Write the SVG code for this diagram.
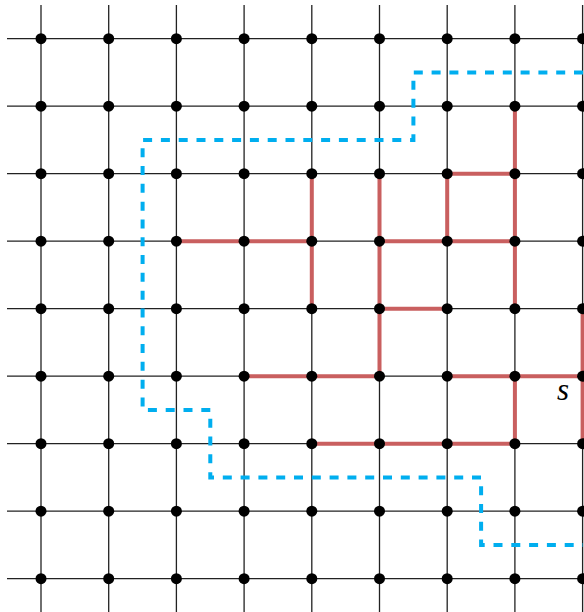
<svg xmlns="http://www.w3.org/2000/svg" width="584" height="612" viewBox="0 0 584 612">
<style>
.grid line{stroke:#222;stroke-width:1.3}
.red{fill:none;stroke:#c95f5f;stroke-width:4;stroke-linecap:butt}
.blue{fill:none;stroke:#00aeef;stroke-width:4;stroke-dasharray:9 8.8}
.node circle{fill:#000}
.lbl{font-family:"Liberation Serif","DejaVu Serif",serif;font-style:italic;font-size:31px;fill:#000}
</style>
<rect width="584" height="612" fill="#fff"/>
<g id="grid" class="grid">
<line x1="7" y1="38.7" x2="620" y2="38.7"/>
<line x1="7" y1="106.2" x2="620" y2="106.2"/>
<line x1="7" y1="173.7" x2="620" y2="173.7"/>
<line x1="7" y1="241.2" x2="620" y2="241.2"/>
<line x1="7" y1="308.7" x2="620" y2="308.7"/>
<line x1="7" y1="376.2" x2="620" y2="376.2"/>
<line x1="7" y1="443.7" x2="620" y2="443.7"/>
<line x1="7" y1="511.2" x2="620" y2="511.2"/>
<line x1="7" y1="578.7" x2="620" y2="578.7"/>
<line x1="41" y1="5" x2="41" y2="620"/>
<line x1="108.7" y1="5" x2="108.7" y2="620"/>
<line x1="176.4" y1="5" x2="176.4" y2="620"/>
<line x1="244.1" y1="5" x2="244.1" y2="620"/>
<line x1="311.8" y1="5" x2="311.8" y2="620"/>
<line x1="379.5" y1="5" x2="379.5" y2="620"/>
<line x1="447.2" y1="5" x2="447.2" y2="620"/>
<line x1="514.9" y1="5" x2="514.9" y2="620"/>
<line x1="582.6" y1="5" x2="582.6" y2="620"/>
</g>
<g id="connectors">
<path class="red" d="M514.9,106.2V308.7 M514.9,376.2V443.7 M447.2,173.7H514.9 M447.2,173.7V241.2 M379.5,241.2H514.9 M379.5,173.7V376.2 M379.5,308.7H447.2 M311.8,173.7V308.7 M176.4,241.2H311.8 M244.1,376.2H379.5 M447.2,376.2H582.6 M311.8,443.7H514.9 M582.6,308.7V443.7"/>
<path class="blue" d="M583,72.45H413.4V139.95H142.6V409.95H210.3V477.45H481.1V544.95H583"/>
</g>
<g id="nodes">
<g id="n0-0" class="node"><circle cx="41" cy="38.7" r="5.5"/></g>
<g id="n1-0" class="node"><circle cx="108.7" cy="38.7" r="5.5"/></g>
<g id="n2-0" class="node"><circle cx="176.4" cy="38.7" r="5.5"/></g>
<g id="n3-0" class="node"><circle cx="244.1" cy="38.7" r="5.5"/></g>
<g id="n4-0" class="node"><circle cx="311.8" cy="38.7" r="5.5"/></g>
<g id="n5-0" class="node"><circle cx="379.5" cy="38.7" r="5.5"/></g>
<g id="n6-0" class="node"><circle cx="447.2" cy="38.7" r="5.5"/></g>
<g id="n7-0" class="node"><circle cx="514.9" cy="38.7" r="5.5"/></g>
<g id="n8-0" class="node"><circle cx="582.6" cy="38.7" r="5.5"/></g>
<g id="n0-1" class="node"><circle cx="41" cy="106.2" r="5.5"/></g>
<g id="n1-1" class="node"><circle cx="108.7" cy="106.2" r="5.5"/></g>
<g id="n2-1" class="node"><circle cx="176.4" cy="106.2" r="5.5"/></g>
<g id="n3-1" class="node"><circle cx="244.1" cy="106.2" r="5.5"/></g>
<g id="n4-1" class="node"><circle cx="311.8" cy="106.2" r="5.5"/></g>
<g id="n5-1" class="node"><circle cx="379.5" cy="106.2" r="5.5"/></g>
<g id="n6-1" class="node"><circle cx="447.2" cy="106.2" r="5.5"/></g>
<g id="n7-1" class="node"><circle cx="514.9" cy="106.2" r="5.5"/></g>
<g id="n8-1" class="node"><circle cx="582.6" cy="106.2" r="5.5"/></g>
<g id="n0-2" class="node"><circle cx="41" cy="173.7" r="5.5"/></g>
<g id="n1-2" class="node"><circle cx="108.7" cy="173.7" r="5.5"/></g>
<g id="n2-2" class="node"><circle cx="176.4" cy="173.7" r="5.5"/></g>
<g id="n3-2" class="node"><circle cx="244.1" cy="173.7" r="5.5"/></g>
<g id="n4-2" class="node"><circle cx="311.8" cy="173.7" r="5.5"/></g>
<g id="n5-2" class="node"><circle cx="379.5" cy="173.7" r="5.5"/></g>
<g id="n6-2" class="node"><circle cx="447.2" cy="173.7" r="5.5"/></g>
<g id="n7-2" class="node"><circle cx="514.9" cy="173.7" r="5.5"/></g>
<g id="n8-2" class="node"><circle cx="582.6" cy="173.7" r="5.5"/></g>
<g id="n0-3" class="node"><circle cx="41" cy="241.2" r="5.5"/></g>
<g id="n1-3" class="node"><circle cx="108.7" cy="241.2" r="5.5"/></g>
<g id="n2-3" class="node"><circle cx="176.4" cy="241.2" r="5.5"/></g>
<g id="n3-3" class="node"><circle cx="244.1" cy="241.2" r="5.5"/></g>
<g id="n4-3" class="node"><circle cx="311.8" cy="241.2" r="5.5"/></g>
<g id="n5-3" class="node"><circle cx="379.5" cy="241.2" r="5.5"/></g>
<g id="n6-3" class="node"><circle cx="447.2" cy="241.2" r="5.5"/></g>
<g id="n7-3" class="node"><circle cx="514.9" cy="241.2" r="5.5"/></g>
<g id="n8-3" class="node"><circle cx="582.6" cy="241.2" r="5.5"/></g>
<g id="n0-4" class="node"><circle cx="41" cy="308.7" r="5.5"/></g>
<g id="n1-4" class="node"><circle cx="108.7" cy="308.7" r="5.5"/></g>
<g id="n2-4" class="node"><circle cx="176.4" cy="308.7" r="5.5"/></g>
<g id="n3-4" class="node"><circle cx="244.1" cy="308.7" r="5.5"/></g>
<g id="n4-4" class="node"><circle cx="311.8" cy="308.7" r="5.5"/></g>
<g id="n5-4" class="node"><circle cx="379.5" cy="308.7" r="5.5"/></g>
<g id="n6-4" class="node"><circle cx="447.2" cy="308.7" r="5.5"/></g>
<g id="n7-4" class="node"><circle cx="514.9" cy="308.7" r="5.5"/></g>
<g id="n8-4" class="node"><circle cx="582.6" cy="308.7" r="5.5"/></g>
<g id="n0-5" class="node"><circle cx="41" cy="376.2" r="5.5"/></g>
<g id="n1-5" class="node"><circle cx="108.7" cy="376.2" r="5.5"/></g>
<g id="n2-5" class="node"><circle cx="176.4" cy="376.2" r="5.5"/></g>
<g id="n3-5" class="node"><circle cx="244.1" cy="376.2" r="5.5"/></g>
<g id="n4-5" class="node"><circle cx="311.8" cy="376.2" r="5.5"/></g>
<g id="n5-5" class="node"><circle cx="379.5" cy="376.2" r="5.5"/></g>
<g id="n6-5" class="node"><circle cx="447.2" cy="376.2" r="5.5"/></g>
<g id="n7-5" class="node"><circle cx="514.9" cy="376.2" r="5.5"/></g>
<g id="n8-5" class="node"><circle cx="582.6" cy="376.2" r="5.5"/></g>
<g id="n0-6" class="node"><circle cx="41" cy="443.7" r="5.5"/></g>
<g id="n1-6" class="node"><circle cx="108.7" cy="443.7" r="5.5"/></g>
<g id="n2-6" class="node"><circle cx="176.4" cy="443.7" r="5.5"/></g>
<g id="n3-6" class="node"><circle cx="244.1" cy="443.7" r="5.5"/></g>
<g id="n4-6" class="node"><circle cx="311.8" cy="443.7" r="5.5"/></g>
<g id="n5-6" class="node"><circle cx="379.5" cy="443.7" r="5.5"/></g>
<g id="n6-6" class="node"><circle cx="447.2" cy="443.7" r="5.5"/></g>
<g id="n7-6" class="node"><circle cx="514.9" cy="443.7" r="5.5"/></g>
<g id="n8-6" class="node"><circle cx="582.6" cy="443.7" r="5.5"/></g>
<g id="n0-7" class="node"><circle cx="41" cy="511.2" r="5.5"/></g>
<g id="n1-7" class="node"><circle cx="108.7" cy="511.2" r="5.5"/></g>
<g id="n2-7" class="node"><circle cx="176.4" cy="511.2" r="5.5"/></g>
<g id="n3-7" class="node"><circle cx="244.1" cy="511.2" r="5.5"/></g>
<g id="n4-7" class="node"><circle cx="311.8" cy="511.2" r="5.5"/></g>
<g id="n5-7" class="node"><circle cx="379.5" cy="511.2" r="5.5"/></g>
<g id="n6-7" class="node"><circle cx="447.2" cy="511.2" r="5.5"/></g>
<g id="n7-7" class="node"><circle cx="514.9" cy="511.2" r="5.5"/></g>
<g id="n8-7" class="node"><circle cx="582.6" cy="511.2" r="5.5"/></g>
<g id="n0-8" class="node"><circle cx="41" cy="578.7" r="5.5"/></g>
<g id="n1-8" class="node"><circle cx="108.7" cy="578.7" r="5.5"/></g>
<g id="n2-8" class="node"><circle cx="176.4" cy="578.7" r="5.5"/></g>
<g id="n3-8" class="node"><circle cx="244.1" cy="578.7" r="5.5"/></g>
<g id="n4-8" class="node"><circle cx="311.8" cy="578.7" r="5.5"/></g>
<g id="n5-8" class="node"><circle cx="379.5" cy="578.7" r="5.5"/></g>
<g id="n6-8" class="node"><circle cx="447.2" cy="578.7" r="5.5"/></g>
<g id="n7-8" class="node"><circle cx="514.9" cy="578.7" r="5.5"/></g>
<g id="n8-8" class="node"><circle cx="582.6" cy="578.7" r="5.5"/></g>
</g>
<g id="label-s"><text class="lbl" x="557" y="400">s</text></g>
</svg>
